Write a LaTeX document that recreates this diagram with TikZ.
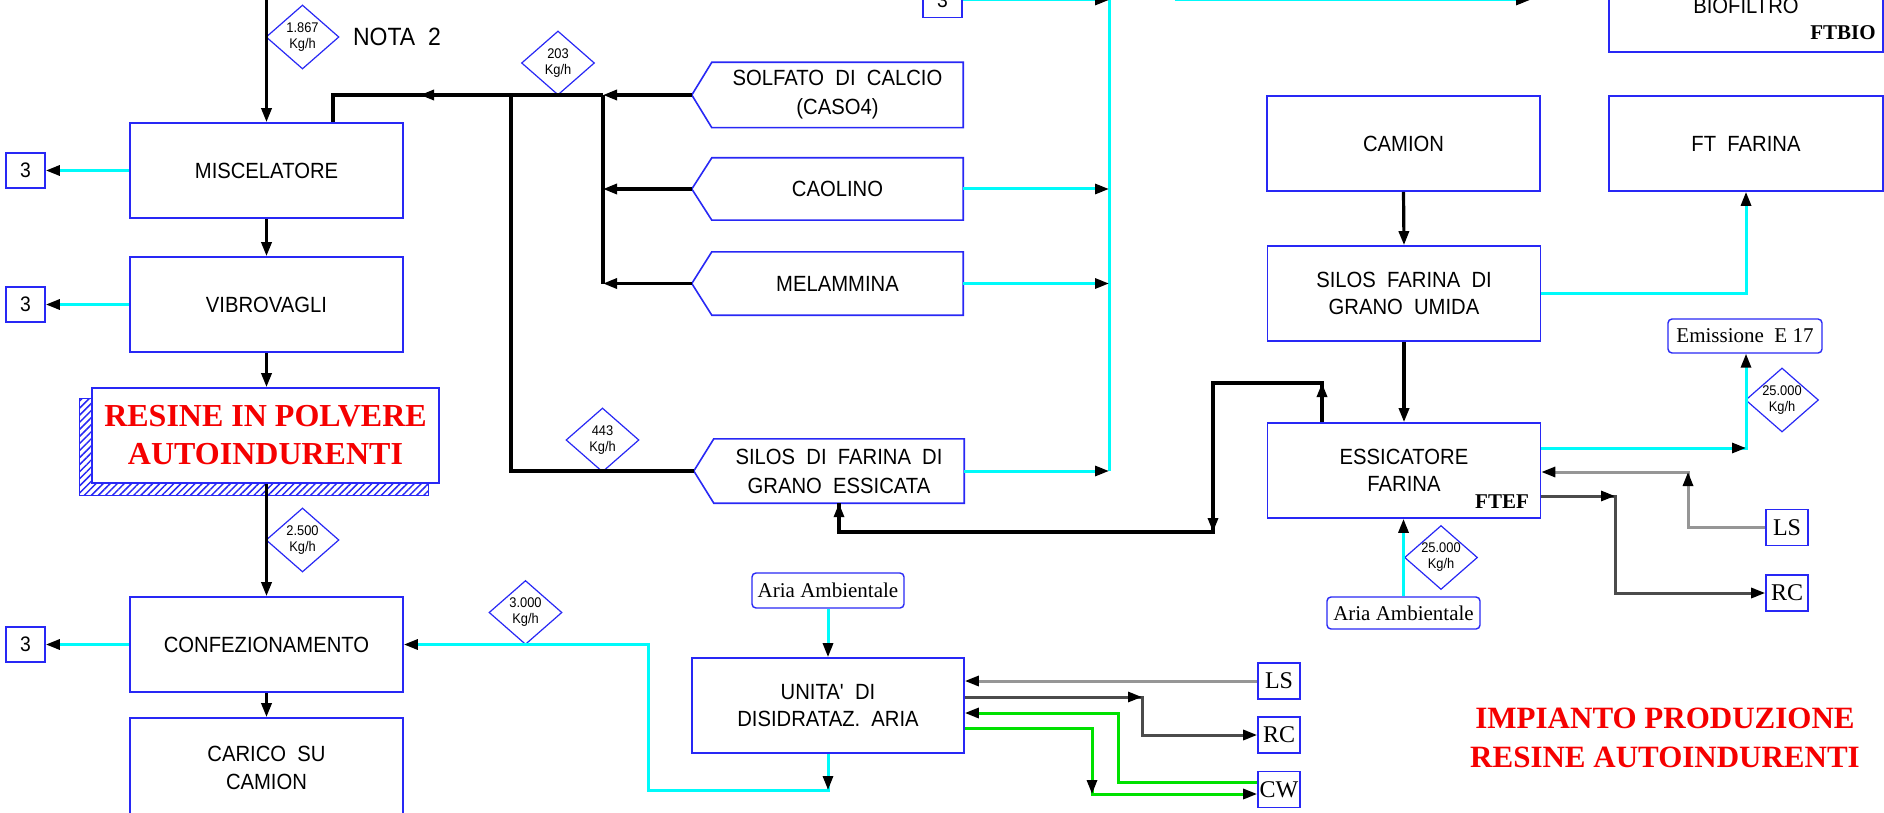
\documentclass[tikz,border=0pt]{standalone}
\usepackage{fontspec}
\setmainfont{Liberation Serif}
\newfontfamily\labfont{Liberation Sans}[FakeStretch=0.92]
\usetikzlibrary{arrows.meta,shapes.geometric,patterns.meta,calc}
\definecolor{bblue}{RGB}{40,40,245}
\definecolor{cy}{RGB}{0,250,250}
\definecolor{lgray}{RGB}{150,150,150}
\definecolor{dgray}{RGB}{75,75,75}
\definecolor{grn}{RGB}{0,225,0}
\definecolor{tred}{RGB}{245,0,0}
\newcommand\pentbox[1]{%
  \draw[draw=bblue,line width=1.6pt] (#1.north west) -- (#1.north east) -- (#1.south east) -- (#1.south west) -- ($(#1.west)+(-20,0)$) -- cycle;
  \coordinate (#1T) at ($(#1.west)+(-20,0)$);}
\tikzset{
  pbox/.style={draw=bblue, line width=1.6pt, minimum width=273pt, minimum height=95pt, inner sep=0pt, align=center, font=\labfont\fontsize{22}{28}\selectfont},
  nbox/.style={draw=bblue, line width=1.6pt, minimum width=39pt, minimum height=35pt, inner sep=0pt, font=\labfont\fontsize{21}{21}\selectfont},
  sbox/.style={draw=bblue, line width=1.6pt, minimum width=42pt, minimum height=36pt, inner sep=0pt, font=\fontsize{24}{24}\selectfont},
  rbox/.style={draw=bblue, line width=1.4pt, rounded corners=4pt, inner sep=0pt, font=\fontsize{21}{21}\selectfont},
  txt/.style={inner sep=0pt, align=center, font=\labfont\fontsize{22}{29}\selectfont},
  dia/.style={draw=bblue, line width=1.2pt, diamond, aspect=1.14, minimum width=73pt, minimum height=64pt, inner sep=0pt, align=center, font=\labfont\fontsize{14}{16}\selectfont},
  blk/.style={line width=3.2pt, draw=black},
  cyl/.style={line width=3pt, draw=cy},
  lg/.style={line width=3pt, draw=lgray},
  dg/.style={line width=3pt, draw=dgray},
  gr/.style={line width=3pt, draw=grn},
  arw/.style={-{Triangle[length=14pt,width=10pt,color=black]}},
  ttl/.style={text=tred, inner sep=0pt, align=center},
}
\begin{document}
\begin{tikzpicture}[x=1pt,y=-1pt]
\fill[white] (0,0) rectangle (1884,813);
\useasboundingbox (0,0) rectangle (1884,813);

% ---------- left column ----------
\node[pbox] (mix) at (266.5,170.5) {MISCELATORE};
\node[pbox] (vib) at (266.5,304.5) {VIBROVAGLI};
\fill[pattern={Lines[angle=45,distance=5pt,line width=1.5pt]}, pattern color=bblue] (79,398) rectangle (428,495);
\draw[bblue,line width=1pt] (79,398) rectangle (428,495);
\node[draw=bblue, fill=white, line width=1.6pt, minimum width=347pt, minimum height=95pt, ttl,
      font=\bfseries\fontsize{32}{38}\selectfont] (res) at (265.5,435.5) {RESINE IN POLVERE\\AUTOINDURENTI};
\node[pbox] (conf) at (266.5,644.5) {CONFEZIONAMENTO};
\node[pbox, minimum height=100pt] (car) at (266.5,768) {CARICO~~SU\\CAMION};
\node[nbox] (b3a) at (25.5,170.5) {3};
\node[nbox] (b3b) at (25.5,304.5) {3};
\node[nbox] (b3c) at (25.5,644.5) {3};
\node[nbox] (b3t) at (942.5,0) {3};

\node[dia] (d1) at (302.5,37) {1.867\\Kg/h};
\node[inner sep=0pt, font=\labfont\fontsize{25}{25}\selectfont] (nota) at (397,37) {NOTA~~2};
\node[dia] (d2) at (558,63) {203\\Kg/h};
\node[dia] (d3) at (602.5,440) {443\\Kg/h};
\node[dia] (d4) at (302.5,540) {2.500\\Kg/h};
\node[dia] (d5) at (525.5,612.5) {3.000\\Kg/h};
\node[dia] (d6) at (1782,400) {25.000\\Kg/h};
\node[dia] (d7) at (1441,557.5) {25.000\\Kg/h};

% ---------- raw materials ----------
\node[txt, minimum width=251pt, minimum height=65pt] (solf) at (837.5,95) {SOLFATO~~DI~~CALCIO\\(CASO4)};
\pentbox{solf}
\node[txt, minimum width=251pt, minimum height=62pt] (cao) at (837.5,189) {CAOLINO};
\pentbox{cao}
\node[txt, minimum width=251pt, minimum height=63pt] (mel) at (837.5,283.5) {MELAMMINA};
\pentbox{mel}
\node[txt, minimum width=250pt, minimum height=64pt] (sil) at (839,471) {SILOS~~DI~~FARINA~~DI\\GRANO~~ESSICATA};
\pentbox{sil}

% ---------- right part ----------
\node[pbox] (cam) at (1403.5,143.5) {CAMION};
\node[pbox, minimum width=274pt] (ftf) at (1746,143.5) {FT~~FARINA};
\node[pbox, minimum width=274pt, minimum height=92pt] (bio) at (1746,6) {BIOFILTRO};
\node[inner sep=0pt, font=\bfseries\fontsize{21}{21}\selectfont] (ftbio) at (1843,33) {FTBIO};
\node[pbox, font=\labfont\fontsize{22}{27}\selectfont] (silu) at (1404,293.5) {SILOS~~FARINA~~DI\\GRANO~~UMIDA};
\node[pbox, font=\labfont\fontsize{22}{27}\selectfont] (ess) at (1404,470.5) {ESSICATORE\\FARINA};
\node[inner sep=0pt, font=\bfseries\fontsize{21}{21}\selectfont] (ftef) at (1502,502) {FTEF};
\node[rbox, minimum width=154pt, minimum height=34pt] (emi) at (1745,336) {Emissione~~E 17};
\node[sbox] (ls1) at (1787,527.5) {LS};
\node[sbox] (rc1) at (1787,593) {RC};
\node[rbox, minimum width=153pt, minimum height=32pt] (aria1) at (1403.5,613) {Aria Ambientale};
\node[rbox, minimum width=152pt, minimum height=35pt] (aria2) at (828,590.5) {Aria Ambientale};
\node[pbox, minimum width=272pt, font=\labfont\fontsize{22}{27}\selectfont] (uni) at (828,705.5) {UNITA'~~DI\\DISIDRATAZ.~~ARIA};
\node[sbox] (ls2) at (1279,681) {LS};
\node[sbox] (rc2) at (1279,735) {RC};
\node[sbox] (cw) at (1279,789.5) {CW};
\node[ttl, font=\bfseries\fontsize{31}{39}\selectfont] (title) at (1665,737.5) {IMPIANTO PRODUZIONE\\RESINE AUTOINDURENTI};

% ---------- left connectors ----------
\coordinate (topin) at (266.5,-10);
\draw[blk,arw] (topin) -- (mix.north);
\draw[blk,arw] (mix.south) -- (vib.north);
\draw[blk,arw] (vib.south) -- (vib.south |- res.north);
\draw[blk,arw] (res.south -| conf.north) -- (conf.north);
\draw[blk,arw] (conf.south) -- (car.north);
\draw[cyl,arw] (mix.west) -- (b3a.east);
\draw[cyl,arw] (vib.west) -- (b3b.east);
\draw[cyl,arw] (conf.west) -- (b3c.east);

% ---------- raw material feed ----------
\coordinate (k1) at (333,95);
\coordinate (a1) at (420,95);
\coordinate (j1) at (603,95);
\coordinate (j2) at (511,95);
\coordinate (j3) at (603,283.5);
\coordinate (j4) at (511,471);
\draw[blk] (j1) -- (k1) -- (k1 |- mix.north);
\draw[blk,arw] (j1) -- (a1);
\draw[blk,arw] (solfT) -- (j1);
\draw[blk] (j1) -- (j3);
\draw[blk,arw] (caoT) -- (caoT -| j1);
\draw[blk,arw] (melT) -- (j3);
\draw[blk] (j2) -- (j4) -- (silT);

% ---------- cyan collector ----------
\coordinate (ctop) at (1109,-10);
\coordinate (cbot) at (1109,471);
\draw[cyl] (ctop) -- (cbot);
\draw[cyl,arw] (b3t.east) -- (b3t.east -| ctop);
\draw[cyl,arw] (cao.east) -- (cao.east -| ctop);
\draw[cyl,arw] (mel.east) -- (mel.east -| ctop);
\draw[cyl,arw] (sil.east) -- (cbot);
\coordinate (t1) at (1175,0);
\coordinate (t2) at (1530,0);
\draw[cyl,arw] (t1) -- (t2);

% ---------- flour line ----------
\draw[blk,arw] (cam.south) -- (silu.north);
\draw[blk,arw] (silu.south) -- (ess.north);
\coordinate (f1) at (silu.east -| ftf.south);
\draw[cyl,arw] (silu.east) -- (f1) -- (ftf.south);
\coordinate (e1) at (1322,383);
\coordinate (e2) at (1213,383);
\coordinate (e3) at (1213,532);
\coordinate (e4) at (e3 -| sil.south);
\draw[blk] (ess.north -| e1) -- (e1) -- (e2) -- (e3) -- (e4) -- (sil.south);
\draw[blk,arw] (ess.north -| e1) -- (e1);
\draw[blk,arw] (e2) -- (e3);
\draw[blk,arw] (e4) -- (sil.south);

\coordinate (m1) at (1746,448);
\draw[cyl,arw] (ess.east |- m1) -- (m1) -- (m1 |- emi.south);
\draw[cyl,arw] (ess.east |- m1) -- (m1);
\coordinate (l1) at (1688,527.5);
\coordinate (l2) at (1688,472);
\draw[lg,arw] (ls1.west) -- (l1) -- (l2) -- (ess.east |- l2);
\draw[lg,arw] (l1) -- (l2);
\coordinate (q1) at (1615,496);
\coordinate (q2) at (1615,593);
\draw[dg,arw] (ess.east |- q1) -- (q1) -- (q2) -- (rc1.west);
\draw[dg,arw] (ess.east |- q1) -- (q1);
\draw[cyl,arw] (aria1.north) -- (ess.south -| aria1.north);

% ---------- dehumidifier ----------
\draw[cyl,arw] (aria2.south) -- (uni.north);
\coordinate (u1) at (828,790);
\coordinate (u2) at (648,790);
\draw[cyl,arw] (uni.south) -- (u1) -- (u2) -- (u2 |- conf.east) -- (conf.east);
\draw[cyl,arw] (uni.south) -- (u1);
\draw[lg,arw] (ls2.west) -- (ls2.west -| uni.east);
\coordinate (r1) at (1142,697);
\coordinate (r2) at (1142,735);
\draw[dg,arw] (uni.east |- r1) -- (r1) -- (r2) -- (rc2.west);
\draw[dg,arw] (uni.east |- r1) -- (r1);
\coordinate (g1) at (1118,782);
\coordinate (g2) at (1118,713);
\draw[gr,arw] (cw.west |- g1) -- (g1) -- (g2) -- (uni.east |- g2);
\coordinate (g3) at (1092,728);
\coordinate (g4) at (1092,794);
\draw[gr,arw] (uni.east |- g3) -- (g3) -- (g4) -- (cw.west |- g4);
\draw[gr,arw] (g3) -- (g4);
\end{tikzpicture}
\end{document}
